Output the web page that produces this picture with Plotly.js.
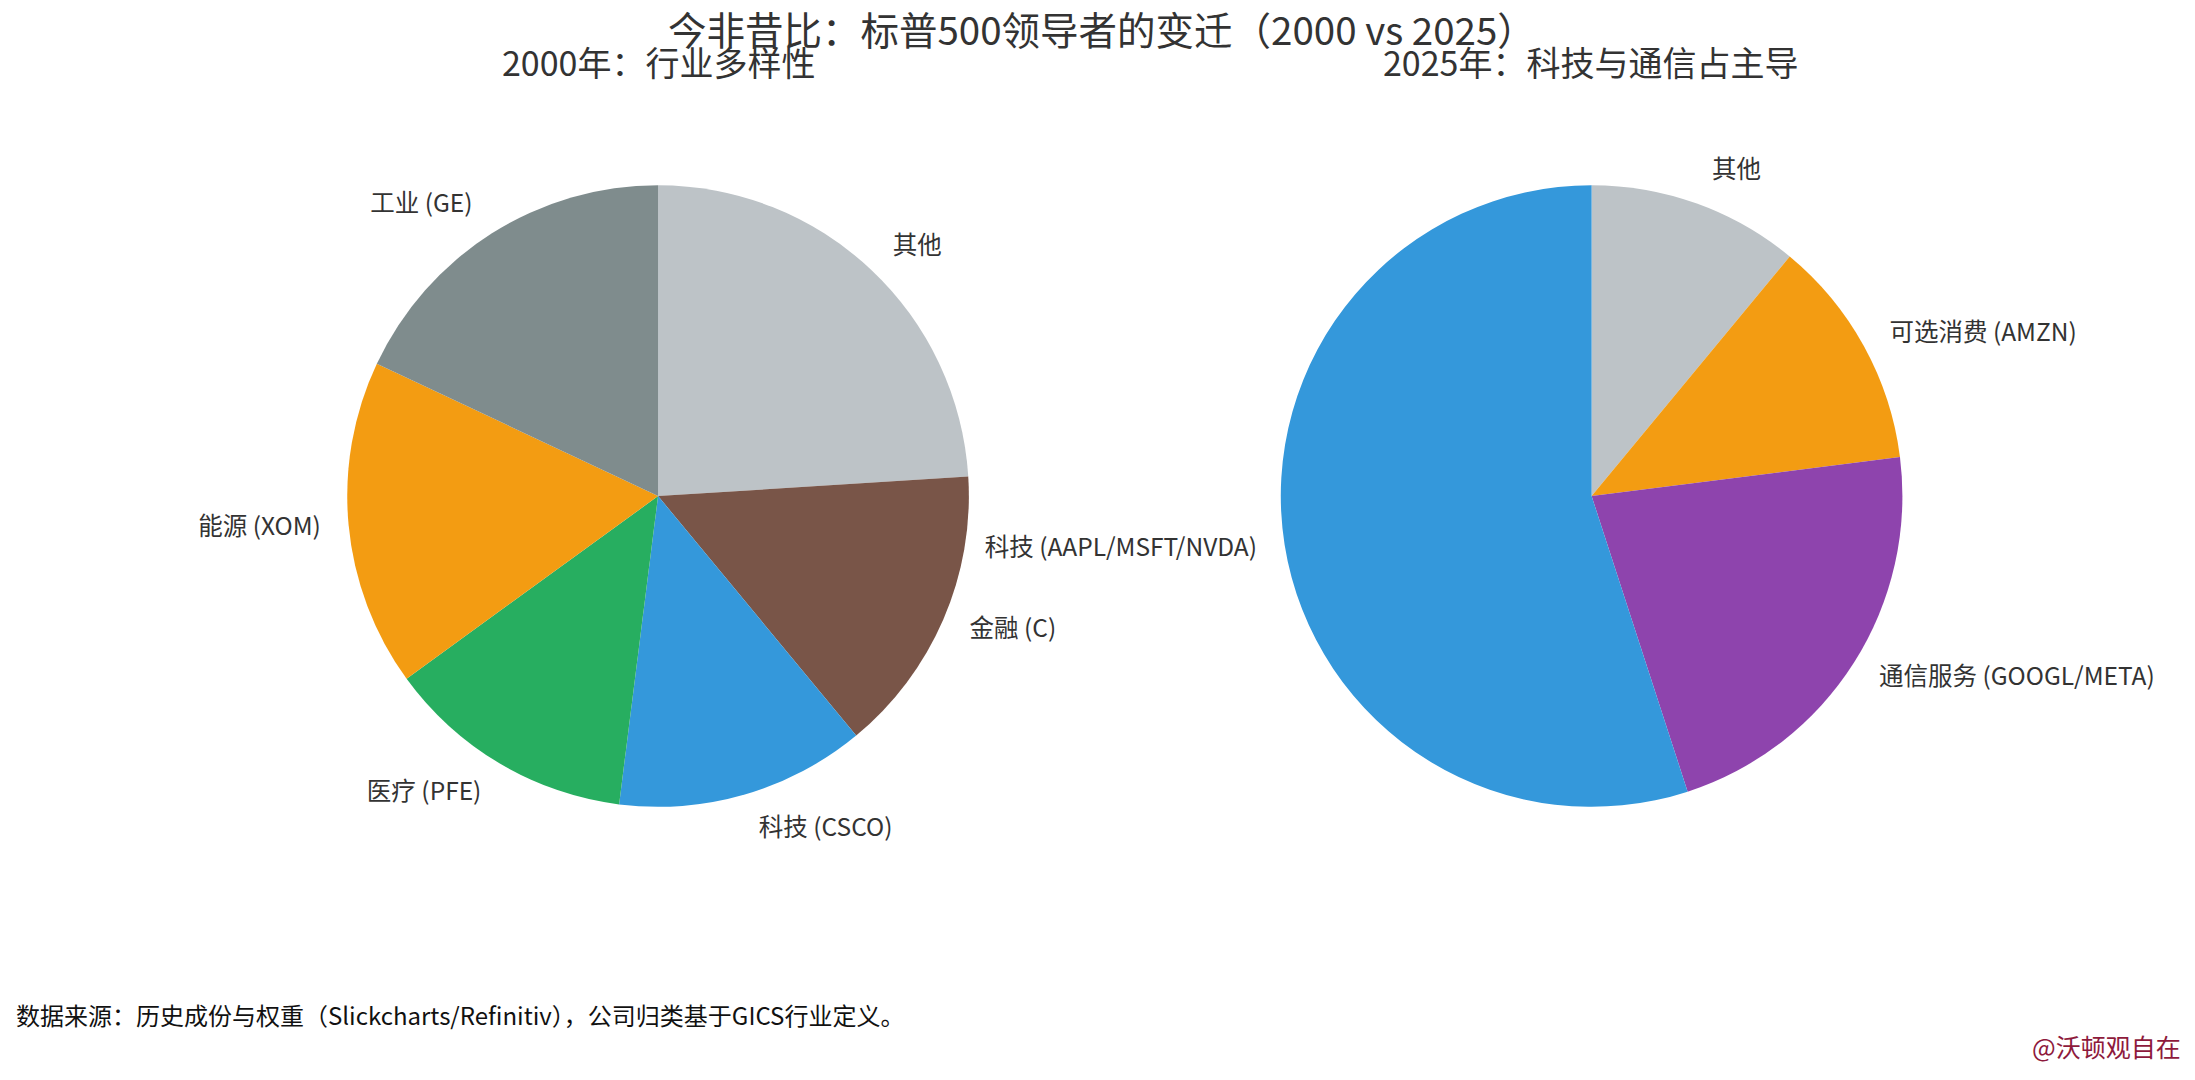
<!DOCTYPE html>
<html>
<head>
<meta charset="utf-8">
<script src="https://cdn.plot.ly/plotly-3.0.1.min.js"></script>
<style>
	html, body { margin: 0; padding: 0; background: #fff; }
	#myDiv { width: 2195px; height: 1080px; }
</style>
</head>
<body>
<div id="myDiv"></div>
<script>
const labels2000 = ['其他', '金融 (C)', '科技 (CSCO)', '医疗 (PFE)', '能源 (XOM)', '工业 (GE)'];
const values2000 = [24, 15, 13, 13, 17, 18];
const colors2000 = ['#bdc3c7', '#795548', '#3498db', '#27ae60', '#f39c12', '#7f8c8d'];

const labels2025 = ['其他', '可选消费 (AMZN)', '通信服务 (GOOGL/META)', '科技 (AAPL/MSFT/NVDA)'];
const values2025 = [11, 12, 22, 55];
const colors2025 = ['#bdc3c7', '#f39c12', '#8e44ad', '#3498db'];

const mainTitle = '今非昔比：标普500领导者的变迁（2000 vs 2025）';
const leftTitle = '2000年：行业多样性';
const rightTitle = '2025年：科技与通信占主导';
const sourceNote = '数据来源：历史成份与权重（Slickcharts/Refinitiv），公司归类基于GICS行业定义。';
const watermark = '@沃顿观自在';

const fontName = '"Noto Sans CJK SC", "Noto Sans", sans-serif';
const textColor = '#333333';

function makePie(labels, values, colors, xDomain) {
	return {
		type: 'pie',
		labels: labels,
		values: values,
		sort: false,
		direction: 'clockwise',
		rotation: 0,
		textinfo: 'none',
		marker: { colors: colors, line: { width: 0 } },
		domain: { x: xDomain, y: [0.2527, 0.8287] },
		showlegend: false,
		hoverinfo: 'label+percent'
	};
}

// same slices, a bit bigger and see-through: only there so the labels sit further out
function makeLabelRing(labels, values, xDomain) {
	return {
		type: 'pie',
		labels: labels,
		values: values,
		sort: false,
		direction: 'clockwise',
		rotation: 0,
		textinfo: 'label',
		textposition: 'outside',
		outsidetextfont: { family: fontName, size: 24.5, color: textColor },
		marker: { colors: labels.map(() => 'rgba(0,0,0,0)'), line: { width: 0 } },
		domain: { x: xDomain, y: [0.2379, 0.8491] },
		showlegend: false,
		hoverinfo: 'skip'
	};
}

var data = [
	makePie(labels2000, values2000, colors2000, [0.1582, 0.4414]),
	makePie(labels2025, values2025, colors2025, [0.5835, 0.8667]),
	makeLabelRing(labels2000, values2000, [0.1495, 0.4501]),
	makeLabelRing(labels2025, values2025, [0.5748, 0.8754])
];

var layout = {
	width: 2195,
	height: 1080,
	margin: { l: 0, r: 0, t: 0, b: 0 },
	paper_bgcolor: '#ffffff',
	font: { family: fontName, color: textColor },
	title: {
		text: mainTitle,
		font: { family: fontName, size: 38.5, color: textColor },
		x: 0.502,
		xanchor: 'center',
		y: 0.971,
		yanchor: 'middle'
	},
	annotations: [
		{ text: leftTitle, xref: 'paper', yref: 'paper', x: 0.2998, y: 0.943, xanchor: 'center', yanchor: 'middle', showarrow: false, font: { family: fontName, size: 34, color: textColor } },
		{ text: rightTitle, xref: 'paper', yref: 'paper', x: 0.7245, y: 0.943, xanchor: 'center', yanchor: 'middle', showarrow: false, font: { family: fontName, size: 34, color: textColor } },
		{ text: sourceNote, xref: 'paper', yref: 'paper', x: 0.0064, y: 0.0607, xanchor: 'left', yanchor: 'middle', showarrow: false, font: { family: fontName, size: 24, color: '#111111' } },
		{ text: watermark, xref: 'paper', yref: 'paper', x: 0.9945, y: 0.0315, xanchor: 'right', yanchor: 'middle', showarrow: false, font: { family: fontName, size: 25, color: '#8e1a3c' } }
	]
};

Plotly.newPlot(document.getElementById('myDiv'), data, layout, { displayModeBar: false });
</script>
</body>
</html>
